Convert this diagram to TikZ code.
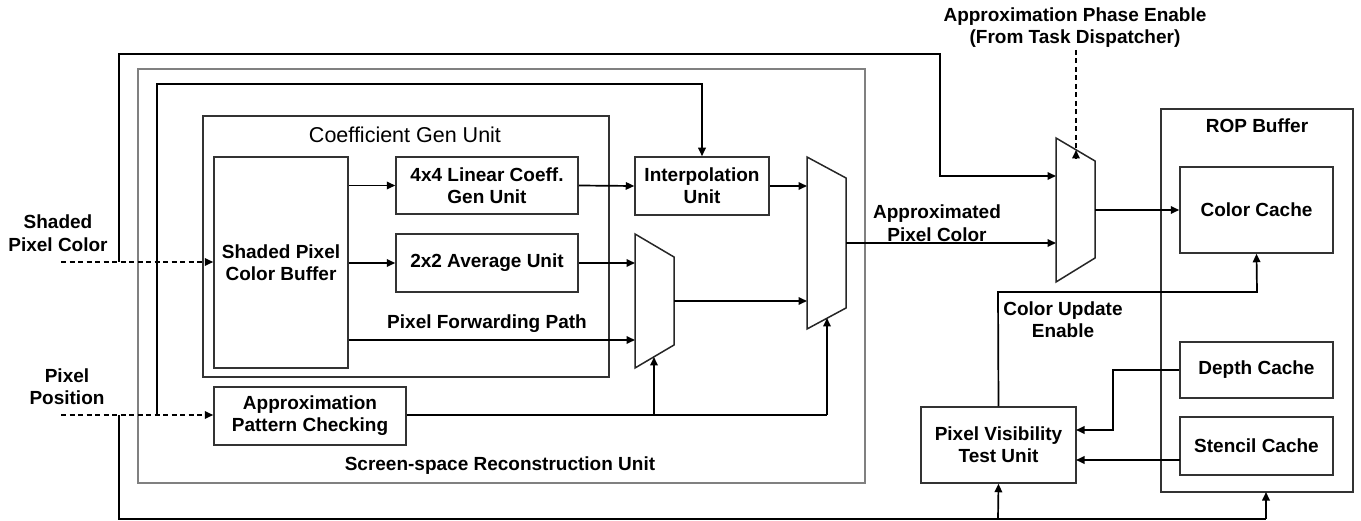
\documentclass[tikz,border=0pt]{standalone}
\usepackage{fontspec}
\setmainfont{Liberation Sans}
\usetikzlibrary{arrows.meta}
\begin{document}
\begin{tikzpicture}[x=1pt,y=-1pt,
  box/.style={draw=black!80, line width=1.5pt, inner sep=0pt, align=center,
              font=\fontsize{19}{22}\selectfont\bfseries},
  frame/.style={draw=black!50, line width=1.6pt, inner sep=0pt},
  lbl/.style={inner sep=0pt, align=center, font=\fontsize{19}{22.5}\selectfont\bfseries},
  title/.style={inner sep=0pt, font=\fontsize{21.5}{24}\selectfont},
  wire/.style={line width=1.7pt, black},
  arr/.style={wire, -{Triangle[length=8.5pt,width=7.5pt]}},
  dashwire/.style={wire, dash pattern=on 5pt off 3.5pt},
  mux/.style={draw=black!85, line width=1.5pt, fill=white, line join=miter}
]
\useasboundingbox (0,0) rectangle (1361,521);

% ---- outer frames ----
\node[frame, minimum width=727pt, minimum height=414pt] (ssr) at (501.5,276) {};
\node[lbl] (ssrlbl) at (500,466) {Screen-space Reconstruction Unit};
\node[box, minimum width=406pt, minimum height=261pt] (coef) at (406,246.5) {};
\node[title] (coeflbl) at (405,135) {Coefficient Gen Unit};

% ---- units ----
\node[box, minimum width=134pt, minimum height=211pt] (buf) at (281,262.5) {Shaded Pixel\\Color Buffer};
\node[box, minimum width=182pt, minimum height=57pt] (lin) at (487,185.5) {4x4 Linear Coeff.\\Gen Unit};
\node[box, minimum width=182pt, minimum height=58pt] (avg) at (487,263) {2x2 Average Unit};
\node[box, minimum width=134pt, minimum height=58pt] (interp) at (702,186) {Interpolation\\Unit};
\node[box, minimum width=192pt, minimum height=58pt] (apc) at (310,416) {Approximation\\Pattern Checking};

\node[box, minimum width=192pt, minimum height=383pt] (rop) at (1257,300.5) {};
\node[lbl] (roplbl) at (1257,126) {ROP Buffer};
\node[box, minimum width=153pt, minimum height=86pt] (color) at (1256.5,210) {Color Cache};
\node[box, minimum width=153pt, minimum height=56pt] (depth) at (1256.5,370) {Depth Cache};
\node[box, minimum width=153pt, minimum height=58pt] (stencil) at (1256.5,446) {Stencil Cache};
\node[box, minimum width=155pt, minimum height=76pt] (pvt) at (998.5,445) {Pixel Visibility\\Test Unit};

% ---- multiplexers ----
\draw[mux] (635,234) -- (674,257) -- (674,345) -- (635,368) -- cycle;
\draw[mux] (807,157) -- (846,178) -- (846,308) -- (807,329) -- cycle;
\draw[mux] (1056,138) -- (1095,161) -- (1095,258) -- (1056,282) -- cycle;
\coordinate (muxAin2) at (635,263);
\coordinate (muxAin3) at (635,340);
\coordinate (muxAout) at (674,301);
\coordinate (muxAsel) at (654,357);
\coordinate (muxBin1) at (807,186);
\coordinate (muxBin2) at (807,301);
\coordinate (muxBout) at (846,243);
\coordinate (muxBsel) at (827,318);
\coordinate (muxCin1) at (1056,176);
\coordinate (muxCin2) at (1056,243);
\coordinate (muxCout) at (1095,210);
\coordinate (muxCsel) at (1076,150);

% ---- inputs ----
\coordinate (spcIn) at (61,262);
\coordinate (posIn) at (61,415);
\coordinate (spcTap) at (119,262);
\coordinate (posTap) at (119,415);
\coordinate (posTap2) at (157,415);
\coordinate (phaseIn) at (1076,50);
\node[lbl] (spclbl) at (58,233) {Shaded\\Pixel Color};
\node[lbl] (poslbl) at (67,386.5) {Pixel\\Position};
\node[lbl] (phaselbl) at (1075,27.5) {Approximation Phase Enable\\(From Task Dispatcher)};

\draw[dashwire] (spcIn) -- (buf.west |- spcIn);
\draw[arr] ([xshift=-8pt]buf.west |- spcIn) -- (buf.west |- spcIn);
\draw[dashwire] (posIn) -- ([xshift=-8pt]apc.west |- posIn);
\draw[arr] ([xshift=-8pt]apc.west |- posIn) -- (apc.west |- posIn);
\draw[dashwire] (phaseIn) -- ([yshift=-8pt]muxCsel);
\draw[arr] ([yshift=-8pt]muxCsel) -- (muxCsel);

% ---- datapath ----
\draw[arr] (buf.east |- lin) -- (lin.west);
\draw[arr] (buf.east |- avg) -- (avg.west);
\draw[arr] (buf.east |- muxAin3) -- (muxAin3);
\node[lbl] (fwdlbl) at (487,324) {Pixel Forwarding Path};
\draw[arr] (avg.east) -- (muxAin2);
\draw[arr] (lin.east) -- (interp.west);
\draw[arr] (interp.east |- muxBin1) -- (muxBin1);
\draw[arr] (muxAout) -- (muxBin2);
\draw[arr] (muxBout) -- (muxCin2);
\node[lbl] (apxlbl) at (937,223) {Approximated\\Pixel Color};
\draw[arr] (muxCout) -- (color.west |- muxCout);

\draw[arr] (spcTap) -- (119,54) -- (940,54) -- (940,176) -- (muxCin1);
\draw[arr] (posTap2) -- (157,84) -- (702,84) -- (interp.north);

\draw[wire] (apc.east |- posIn) -- (827,415);
\draw[arr] (827,415) -- (muxBsel);
\draw[arr] (654,415) -- (muxAsel);

% ---- pixel position to ROP side ----
\draw[wire] (posTap) -- (119,519) -- (1266,519);
\draw[arr] (998,519) -- (pvt.south);
\draw[arr] (1266,519) -- (1266,492);

% ---- visibility test ----
\draw[arr] (pvt.north) -- (998,292) -- (1257,292) -- (color.south);
\node[lbl] (cuelbl) at (1063,319.5) {Color Update\\Enable};
\draw[arr] (depth.west) -- (1113,370) -- (1113,430) -- (1076,430);
\draw[arr] (1180,460) -- (1076,460);
\end{tikzpicture}
\end{document}
